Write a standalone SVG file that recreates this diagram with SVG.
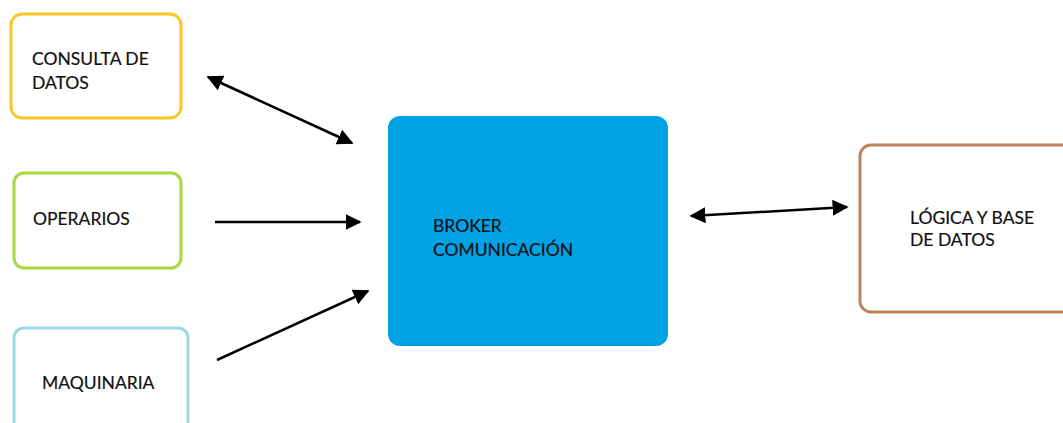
<svg xmlns="http://www.w3.org/2000/svg" width="1063" height="423" viewBox="0 0 1063 423">
  <style>
    .box { fill: #ffffff; stroke-width: 3; }
    .lbl { font-family: Lato, "Open Sans", "Liberation Sans", sans-serif; font-size: 17.5px; fill: #111111; stroke: #111111; stroke-width: 0.2; }
    .conn { stroke: #000000; stroke-width: 2.5; fill: none; }
  </style>
  <defs>
    <marker id="head" viewBox="0 0 10 10" refX="9" refY="5" markerWidth="6.4" markerHeight="6.4" markerUnits="strokeWidth" orient="auto-start-reverse">
      <path d="M0,0 L10,5 L0,10 Z" fill="#000000"/>
    </marker>
  </defs>
  <rect width="1063" height="423" fill="#ffffff"/>

  <g id="consulta">
    <rect class="box" x="11" y="14" width="170" height="104" rx="11" stroke="#F9C623"/>
    <text class="lbl" x="32" y="65">CONSULTA DE</text>
    <text class="lbl" x="32" y="89">DATOS</text>
  </g>

  <g id="operarios">
    <rect class="box" x="14" y="173" width="167" height="95" rx="10" stroke="#A8D83C"/>
    <text class="lbl" x="33" y="225">OPERARIOS</text>
  </g>

  <g id="maquinaria">
    <rect class="box" x="14" y="328" width="174" height="110" rx="10" stroke="#9DD8EA"/>
    <text class="lbl" x="42" y="389">MAQUINARIA</text>
  </g>

  <g id="broker">
    <rect x="388" y="116" width="280" height="230" rx="12" fill="#00A1E5"/>
    <text class="lbl" x="433" y="232">BROKER</text>
    <text class="lbl" x="433" y="256">COMUNICACIÓN</text>
  </g>

  <g id="logica">
    <rect class="box" x="860" y="145" width="215" height="167" rx="11" stroke="#C0825C"/>
    <text class="lbl" x="910" y="224">LÓGICA Y BASE</text>
    <text class="lbl" x="910" y="246">DE DATOS</text>
  </g>

  <g id="connectors">
    <line class="conn" x1="208" y1="77" x2="352" y2="143" marker-start="url(#head)" marker-end="url(#head)"/>
    <line class="conn" x1="215" y1="222" x2="360" y2="222" marker-end="url(#head)"/>
    <line class="conn" x1="217" y1="360" x2="368" y2="291" marker-end="url(#head)"/>
    <line class="conn" x1="691" y1="216" x2="847" y2="207" marker-start="url(#head)" marker-end="url(#head)"/>
  </g>
</svg>
